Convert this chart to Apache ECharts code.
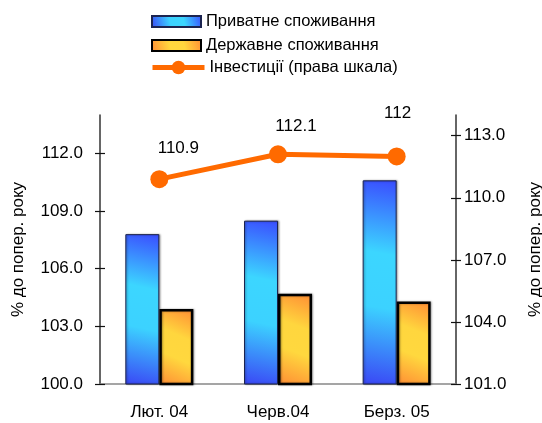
<!DOCTYPE html>
<html>
<head>
<meta charset="utf-8">
<script src="https://cdn.jsdelivr.net/npm/echarts@6/dist/echarts.min.js"></script>
<style>
  html, body { margin: 0; padding: 0; background: #fff; }
  #chart { width: 542px; height: 423px; }
</style>
</head>
<body>
<div id="chart"></div>
<script>
// Periods on the horizontal axis
const categories = ['Лют. 04', 'Черв.04', 'Берз. 05'];

// Consumption growth, % to previous year (left scale)
const privateConsumption = [107.8, 108.5, 110.6];
const publicConsumption = [103.9, 104.7, 104.3];

// Investment growth, % to previous year (right scale)
const investment = [110.9, 112.1, 112];

// Tick values for both value axes
const leftTicks = [100, 103, 106, 109, 112];
const rightTicks = [101, 104, 107, 110, 113];

const seriesNames = ['Приватне споживання', 'Державне споживання', 'Інвестиції (права шкала)'];
const axisTitle = '% до попер. року';

// Nudges for the value labels above the investment line
const investmentLabelOffsets = [[19, 1], [18, 3], [1, -12]];

const FONT = '"Liberation Sans", Arial, sans-serif';

const blueFill = {
  type: 'linear', x: 0, y: 1, x2: 1, y2: 0,
  colorStops: [
    { offset: 0, color: '#3a46f5' },
    { offset: 0.38, color: '#3cd2ff' },
    { offset: 0.64, color: '#3cd6ff' },
    { offset: 1, color: '#3a4cff' }
  ]
};
const orangeFill = {
  type: 'linear', x: 0, y: 1, x2: 1, y2: 0,
  colorStops: [
    { offset: 0, color: '#ff8c34' },
    { offset: 0.38, color: '#ffd83e' },
    { offset: 0.64, color: '#ffd63e' },
    { offset: 1, color: '#ff8c34' }
  ]
};

const chart = echarts.init(document.getElementById('chart'), null, { renderer: 'canvas' });

const valueAxisBase = {
  type: 'value',
  interval: 3,
  max: 114,
  splitLine: { show: false },
  nameLocation: 'middle',
  nameRotate: 90,
  nameTextStyle: { fontFamily: FONT, fontSize: 17, color: '#000' }
};

const legendText = { fontFamily: FONT, fontSize: 16.5, color: '#000' };

chart.setOption({
  animation: false,
  backgroundColor: '#fff',
  textStyle: { fontFamily: FONT },
  legend: [
    {
      orient: 'vertical',
      left: 151,
      top: 13,
      padding: 0,
      itemWidth: 49,
      itemHeight: 11,
      itemGap: 7,
      itemTextGap: 3,
      textStyle: legendText,
      data: [
        { name: seriesNames[0], icon: 'rect' },
        { name: seriesNames[1], icon: 'rect' }
      ]
    },
    {
      orient: 'vertical',
      left: 150,
      top: 59,
      padding: 0,
      itemWidth: 52,
      itemHeight: 17,
      itemTextGap: 2,
      textStyle: legendText,
      lineStyle: { width: 5 },
      data: [{ name: seriesNames[2] }]
    }
  ],
  grid: { left: 100, right: 86, top: 115, bottom: 39, containLabel: false, outerBoundsMode: 'none' },
  xAxis: [
    {
      type: 'category',
      data: categories,
      position: 'bottom',
      axisLine: { lineStyle: { color: '#888', width: 1.5 } },
      axisTick: { length: 6, lineStyle: { color: '#222', width: 1.2 } },
      axisLabel: { fontFamily: FONT, fontSize: 17, color: '#000', margin: 20 }
    },
    {
      type: 'category',
      data: categories,
      position: 'bottom',
      axisLine: { show: false },
      axisTick: { inside: true, length: 6, lineStyle: { color: '#222', width: 1.2 } },
      axisLabel: { show: false }
    }
  ],
  yAxis: [
    Object.assign({}, valueAxisBase, {
      position: 'left',
      min: 100,
      name: axisTitle,
      nameGap: 73,
      axisLine: { show: true, lineStyle: { color: '#333', width: 1.5 } },
      axisTick: { show: true, length: 5, customValues: leftTicks, lineStyle: { color: '#111', width: 1.2 } },
      axisLabel: {
        customValues: leftTicks,
        fontFamily: FONT, fontSize: 17, color: '#000', margin: 17,
        formatter: v => v.toFixed(1)
      }
    }),
    Object.assign({}, valueAxisBase, {
      position: 'right',
      min: 101,
      name: axisTitle,
      nameGap: 71,
      axisLine: { show: true, lineStyle: { color: '#333', width: 1.5 } },
      axisTick: { show: true, length: 5, customValues: rightTicks, lineStyle: { color: '#111', width: 1.2 } },
      axisLabel: {
        customValues: rightTicks,
        fontFamily: FONT, fontSize: 17, color: '#000', margin: 8,
        formatter: v => v.toFixed(1)
      }
    }),
    // inner halves of the crossing tick marks
    {
      type: 'value', position: 'left', min: 100, max: 114, interval: 3,
      splitLine: { show: false }, axisLine: { show: false }, axisLabel: { show: false },
      axisTick: { show: true, inside: true, length: 5, customValues: leftTicks, lineStyle: { color: '#111', width: 1.2 } }
    },
    {
      type: 'value', position: 'right', min: 101, max: 114, interval: 3,
      splitLine: { show: false }, axisLine: { show: false }, axisLabel: { show: false },
      axisTick: { show: true, inside: true, length: 5, customValues: rightTicks, lineStyle: { color: '#111', width: 1.2 } }
    }
  ],
  series: [
    {
      name: seriesNames[0],
      type: 'bar',
      yAxisIndex: 0,
      data: privateConsumption,
      barWidth: 34,
      barGap: '0%',
      itemStyle: {
        color: blueFill,
        borderColor: '#1c2450',
        borderWidth: 1,
        shadowColor: 'rgba(0,0,0,0.35)',
        shadowBlur: 2,
        shadowOffsetX: 1,
        shadowOffsetY: 0
      }
    },
    {
      name: seriesNames[1],
      type: 'bar',
      yAxisIndex: 0,
      data: publicConsumption,
      barWidth: 34,
      barGap: '0%',
      itemStyle: {
        color: orangeFill,
        borderColor: '#000',
        borderWidth: 2.5,
        shadowColor: 'rgba(0,0,0,0.35)',
        shadowBlur: 2,
        shadowOffsetX: 1,
        shadowOffsetY: 0
      }
    },
    {
      name: seriesNames[2],
      type: 'line',
      yAxisIndex: 1,
      data: investment.map((v, i) => ({ value: v, label: { offset: investmentLabelOffsets[i] } })),
      symbol: 'circle',
      symbolSize: 18,
      lineStyle: { color: '#ff6a00', width: 5 },
      itemStyle: { color: '#ff6a00' },
      label: {
        show: true,
        position: 'top',
        distance: 14,
        fontFamily: FONT,
        fontSize: 17,
        color: '#000'
      },
      z: 5
    }
  ]
});
</script>
</body>
</html>
